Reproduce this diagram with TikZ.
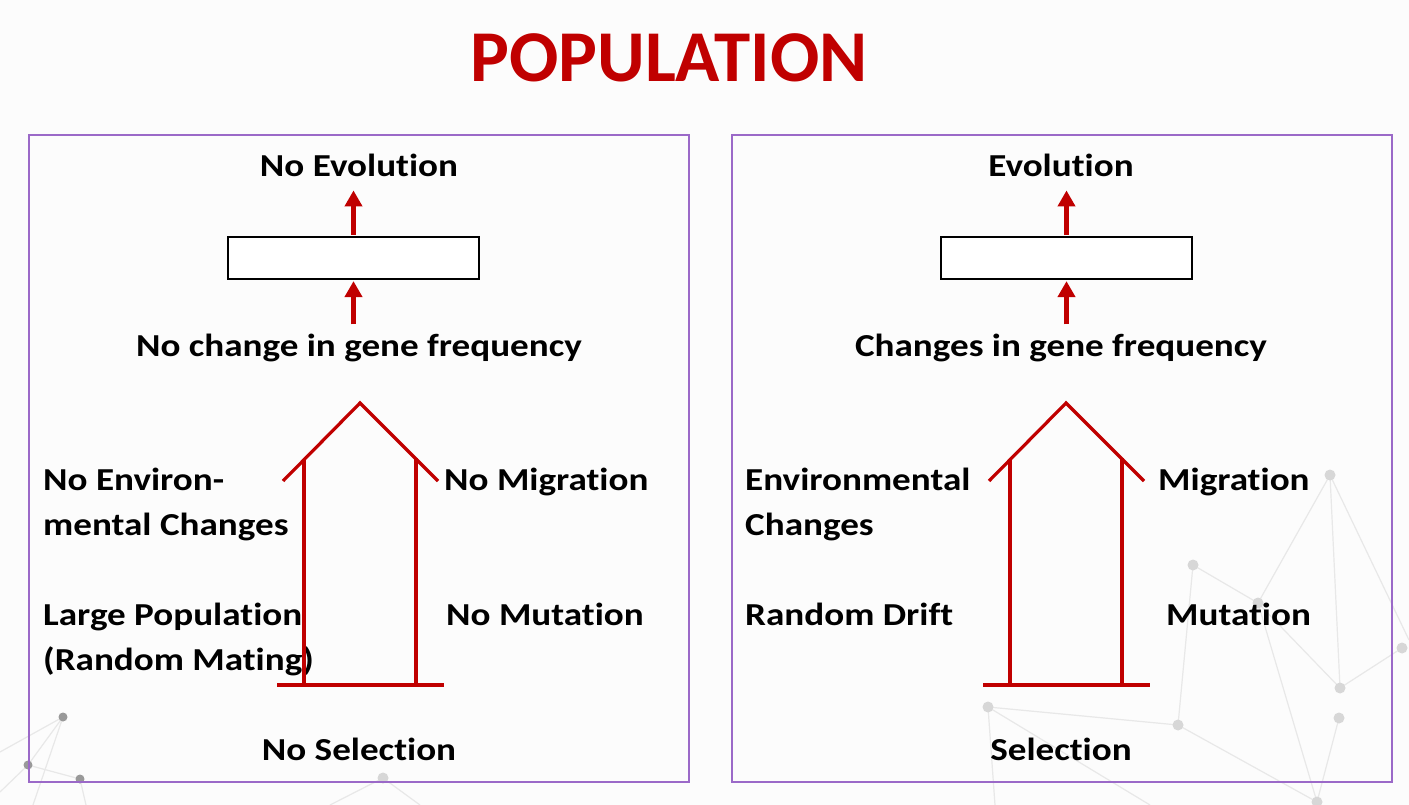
\documentclass[tikz,border=0pt]{standalone}
\usepackage{fontspec}
\setmainfont{Carlito}[FakeStretch=1.16, Ligatures=NoCommon]
\newfontfamily\titlefont{Carlito}
\usetikzlibrary{arrows.meta}
\definecolor{popred}{RGB}{192,0,0}
\definecolor{framepurple}{RGB}{155,105,200}
\definecolor{netline}{RGB}{232,232,232}
\definecolor{netdot}{RGB}{215,215,215}

\begin{document}
\begin{tikzpicture}[x=1pt, y=-1pt,
	every node/.style={font=\fontsize{32}{45}\selectfont\bfseries, inner sep=0pt},
	lbl/.style={anchor=base west, align=left},
	ctr/.style={anchor=base},
	panel/.style={draw=framepurple, line width=1.8pt},
	gatebox/.style={draw=black, line width=2.2pt, fill=white, minimum width=251pt, minimum height=42pt},
	upflow/.style={draw=popred, line width=5pt, -{Triangle[length=16pt,width=17pt]}},
	bigarrow/.style={draw=popred, line width=3.2pt}]
	\useasboundingbox[fill=white!99!black] (0,0) rectangle (1409,805);
	% faint network in the background
	\foreach \xa/\ya/\xb/\yb in {1330/475/1340/688, 1330/475/1258/603, 1330/475/1409/640, 1193/565/1258/603, 1258/603/1340/688, 1340/688/1402/648,
		1193/565/1178/725, 988/707/1178/725, 988/707/1150/805, 1178/725/1317/802, 1339/718/1317/802, 1258/603/1317/802, 988/707/995/805,
		63/717/28/765, 63/717/0/752, 63/717/33/805, 28/765/80/779, 80/779/86/805, 28/765/0/792, 383/778/330/805, 383/778/420/805}
		{\draw[netline, line width=1.2pt] (\xa,\ya) -- (\xb,\yb);}
	\foreach \x/\y in {1330/475, 1193/565, 1258/603, 1402/648, 1340/688, 1339/718, 1178/725, 988/707, 1317/802, 383/778}
		{\fill[netdot] (\x,\y) circle (5.5pt);}
	\foreach \x/\y in {63/717, 28/765, 80/779}
		{\fill[black!40] (\x,\y) circle (4.5pt);}

	\node[ctr, text=popred, font=\titlefont\fontsize{73}{80}\selectfont\bfseries] (title) at (669,82) {POPULATION};

	\draw[panel] (29,135) rectangle (689,782);
	\draw[panel] (732,135) rectangle (1392,782);

	% left panel
	\node[ctr] (noevo) at (359,177) {No Evolution};
	\node[gatebox] (gateL) at (353.5,258) {};
	\node[ctr] (nochange) at (359,356) {No change in gene frequency};
	\node[lbl] (noenv) at (43,535) {No Environ-\\mental Changes};
	\node[lbl] (nomig) at (444,490) {No Migration};
	\node[lbl] (largepop) at (43,670) {Large Population\\(Random Mating)};
	\node[lbl] (nomut) at (446,625) {No Mutation};
	\node[ctr] (nosel) at (359,760) {No Selection};

	% right panel
	\node[ctr] (evo) at (1061,177) {Evolution};
	\node[gatebox] (gateR) at (1066.5,258) {};
	\node[ctr] (change) at (1061,356) {Changes in gene frequency};
	\node[lbl] (env) at (745,535) {Environmental\\Changes};
	\node[lbl] (mig) at (1158,490) {Migration};
	\node[lbl] (drift) at (745,625) {Random Drift};
	\node[lbl] (mut) at (1166,625) {Mutation};
	\node[ctr] (sel) at (1061,760) {Selection};

	\draw[upflow, shorten <=9pt, shorten >=1pt] (nochange.north -| gateL) -- (gateL.south);
	\draw[upflow, shorten <=1pt, shorten >=13pt] (gateL.north) -- (noevo.south -| gateL);
	\draw[upflow, shorten <=9pt, shorten >=1pt] (change.north -| gateR) -- (gateR.south);
	\draw[upflow, shorten <=1pt, shorten >=13pt] (gateR.north) -- (evo.south -| gateR);

	% the two open arrows
	\foreach \dx in {0,706} {
		\draw[bigarrow] (\dx+283,481) -- (\dx+360,403) -- (\dx+438,481);
		\draw[bigarrow] (\dx+304,460) -- (\dx+304,685);
		\draw[bigarrow] (\dx+416,458) -- (\dx+416,685);
		\draw[bigarrow] (\dx+277,685) -- (\dx+444,685);
	}
\end{tikzpicture}
\end{document}
